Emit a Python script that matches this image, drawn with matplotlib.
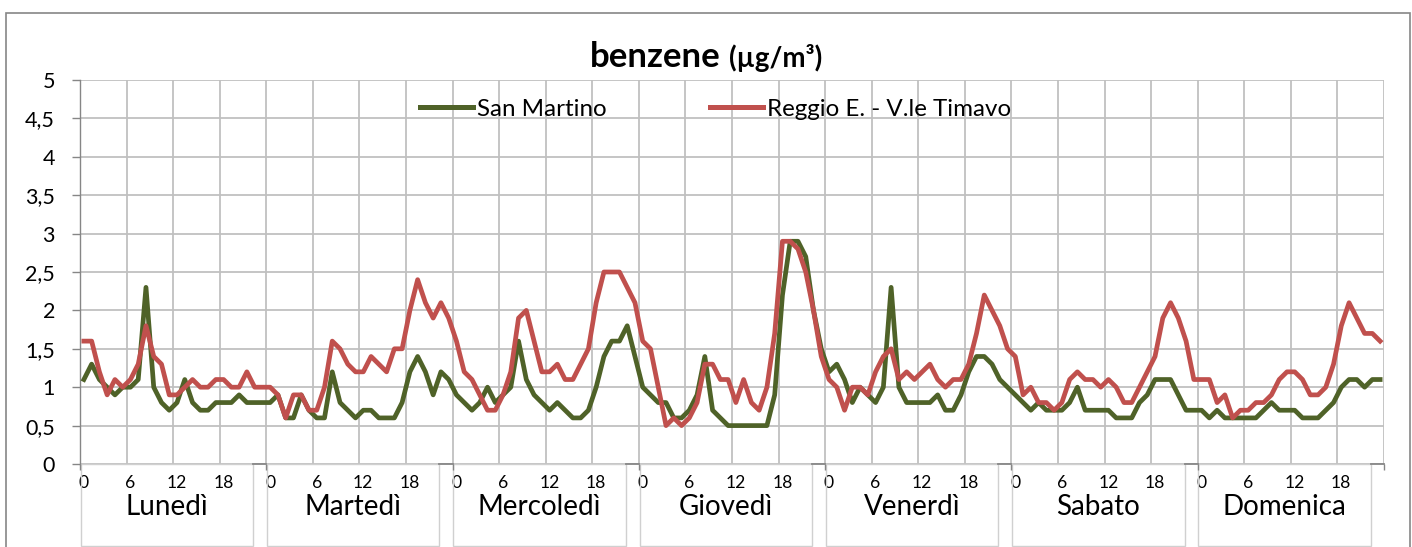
import numpy as np
import matplotlib
matplotlib.use("Agg")
import matplotlib.pyplot as plt
from matplotlib.patches import Rectangle
from matplotlib.transforms import blended_transform_factory

plt.rcParams['font.family'] = ['Lato', 'DejaVu Sans']

# Hourly benzene values, Monday 0h to Sunday 23h (µg/m³)
giorni = ['Lunedì', 'Martedì', 'Mercoledì', 'Giovedì', 'Venerdì', 'Sabato', 'Domenica']
ore_label = ['0', '6', '12', '18']

san_martino = [
    1.1, 1.3, 1.1, 1.0, 0.9, 1.0, 1.0, 1.1, 2.3, 1.0, 0.8, 0.7, 0.8, 1.1, 0.8, 0.7, 0.7, 0.8, 0.8, 0.8, 0.9, 0.8, 0.8, 0.8,
    0.8, 0.9, 0.6, 0.6, 0.9, 0.7, 0.6, 0.6, 1.2, 0.8, 0.7, 0.6, 0.7, 0.7, 0.6, 0.6, 0.6, 0.8, 1.2, 1.4, 1.2, 0.9, 1.2, 1.1,
    0.9, 0.8, 0.7, 0.8, 1.0, 0.8, 0.9, 1.0, 1.6, 1.1, 0.9, 0.8, 0.7, 0.8, 0.7, 0.6, 0.6, 0.7, 1.0, 1.4, 1.6, 1.6, 1.8, 1.4,
    1.0, 0.9, 0.8, 0.8, 0.6, 0.6, 0.7, 0.9, 1.4, 0.7, 0.6, 0.5, 0.5, 0.5, 0.5, 0.5, 0.5, 0.9, 2.2, 2.9, 2.9, 2.7, 2.0, 1.5,
    1.2, 1.3, 1.1, 0.8, 1.0, 0.9, 0.8, 1.0, 2.3, 1.0, 0.8, 0.8, 0.8, 0.8, 0.9, 0.7, 0.7, 0.9, 1.2, 1.4, 1.4, 1.3, 1.1, 1.0,
    0.9, 0.8, 0.7, 0.8, 0.7, 0.7, 0.7, 0.8, 1.0, 0.7, 0.7, 0.7, 0.7, 0.6, 0.6, 0.6, 0.8, 0.9, 1.1, 1.1, 1.1, 0.9, 0.7, 0.7,
    0.7, 0.6, 0.7, 0.6, 0.6, 0.6, 0.6, 0.6, 0.7, 0.8, 0.7, 0.7, 0.7, 0.6, 0.6, 0.6, 0.7, 0.8, 1.0, 1.1, 1.1, 1.0, 1.1, 1.1,
]

timavo = [
    1.6, 1.6, 1.2, 0.9, 1.1, 1.0, 1.1, 1.3, 1.8, 1.4, 1.3, 0.9, 0.9, 1.0, 1.1, 1.0, 1.0, 1.1, 1.1, 1.0, 1.0, 1.2, 1.0, 1.0,
    1.0, 0.9, 0.6, 0.9, 0.9, 0.7, 0.7, 1.0, 1.6, 1.5, 1.3, 1.2, 1.2, 1.4, 1.3, 1.2, 1.5, 1.5, 2.0, 2.4, 2.1, 1.9, 2.1, 1.9,
    1.6, 1.2, 1.1, 0.9, 0.7, 0.7, 0.9, 1.2, 1.9, 2.0, 1.6, 1.2, 1.2, 1.3, 1.1, 1.1, 1.3, 1.5, 2.1, 2.5, 2.5, 2.5, 2.3, 2.1,
    1.6, 1.5, 1.0, 0.5, 0.6, 0.5, 0.6, 0.8, 1.3, 1.3, 1.1, 1.1, 0.8, 1.1, 0.8, 0.7, 1.0, 1.7, 2.9, 2.9, 2.8, 2.5, 2.0, 1.4,
    1.1, 1.0, 0.7, 1.0, 1.0, 0.9, 1.2, 1.4, 1.5, 1.1, 1.2, 1.1, 1.2, 1.3, 1.1, 1.0, 1.1, 1.1, 1.3, 1.7, 2.2, 2.0, 1.8, 1.5,
    1.4, 0.9, 1.0, 0.8, 0.8, 0.7, 0.8, 1.1, 1.2, 1.1, 1.1, 1.0, 1.1, 1.0, 0.8, 0.8, 1.0, 1.2, 1.4, 1.9, 2.1, 1.9, 1.6, 1.1,
    1.1, 1.1, 0.8, 0.9, 0.6, 0.7, 0.7, 0.8, 0.8, 0.9, 1.1, 1.2, 1.2, 1.1, 0.9, 0.9, 1.0, 1.3, 1.8, 2.1, 1.9, 1.7, 1.7, 1.6,
]

verde = '#4f6228'
rosso = '#c0504d'
griglia = '#c0c0c0'
scuro = '#868686'

n = len(san_martino)
x = np.arange(n) + 0.5  # points at category centres, like Excel

fig = plt.figure(figsize=(14.12, 5.47), dpi=100)
ax = fig.add_axes([80 / 1412, 83 / 547, 1304 / 1412, 384 / 547])

ax.plot(x, san_martino, color=verde, lw=3.4, label='San Martino', zorder=3)
ax.plot(x, timavo, color=rosso, lw=3.4, label='Reggio E. - V.le Timavo', zorder=4)

ax.set_xlim(0, 168)
ax.set_ylim(0, 5)

# gridlines every 6 hours and every 0.5
ax.set_xticks(np.arange(0, 169, 6))
ax.set_xticklabels([])
ax.tick_params(axis='x', which='major', length=0)
ax.set_yticks(np.arange(0, 5.01, 0.5))
ax.set_yticklabels([f'{v:g}'.replace('.', ',') for v in np.arange(0, 5.01, 0.5)], fontsize=15.5)
ax.tick_params(axis='y', length=6, width=1, color=scuro, pad=12)
ax.grid(True, color=griglia, lw=1.3, zorder=0)
ax.set_axisbelow(True)

# hour labels at category centres
pos_ore = [d * 24 + h + 0.5 for d in range(len(giorni)) for h in (0, 6, 12, 18)]
lab_ore = ore_label * len(giorni)
ax.set_xticks(pos_ore, lab_ore, minor=True, fontsize=12.6)
ax.tick_params(axis='x', which='minor', length=0, pad=8)

for s in ['top', 'right', 'bottom']:
    ax.spines[s].set_visible(False)
ax.spines['left'].set_color(scuro)
ax.spines['left'].set_linewidth(1)

trans = blended_transform_factory(ax.transData, ax.transAxes)
box_h = 82 / 384
for i, g in enumerate(giorni):
    x0 = i * 24
    ax.add_patch(Rectangle((x0 + 0.1, -box_h), 22.2, box_h, transform=trans,
                           fill=False, edgecolor='#d0d0d0', lw=1, clip_on=False))
    ax.text(x0 + 11.2, -0.112, g, transform=trans, ha='center', va='center', fontsize=20)
    # dark axis line in the gap between boxes
    ax.plot([x0 + 22.3, x0 + 24], [0, 0], transform=trans, color=scuro, lw=1.3, clip_on=False)

ax.vlines(np.arange(0, 169, 24), -0.016, 0, transform=trans, colors=scuro, lw=1, clip_on=False)

leg = ax.legend(loc='center left', bbox_to_anchor=(0.2607, 0.924), ncol=2, frameon=False,
                fontsize=17.4, handlelength=2.2, handletextpad=0.15, columnspacing=4.3,
                borderpad=0, borderaxespad=0)
for h in leg.get_lines():
    h.set_linewidth(3.6)

fig.text(721 / 1412, 1 - 67 / 547, 'benzene', ha='right', va='baseline',
         fontsize=25, fontweight='bold')
fig.text(729 / 1412, 1 - 67 / 547, '(µg/m³)', ha='left', va='baseline',
         fontsize=20, fontweight='bold')

fig.patches.append(Rectangle((5.5 / 1412, -0.01), 1404.5 / 1412, 1 - 12.5 / 547 + 0.01,
                             transform=fig.transFigure, fill=False, edgecolor=scuro, lw=1.2))

fig.savefig('out.png', dpi=100)
